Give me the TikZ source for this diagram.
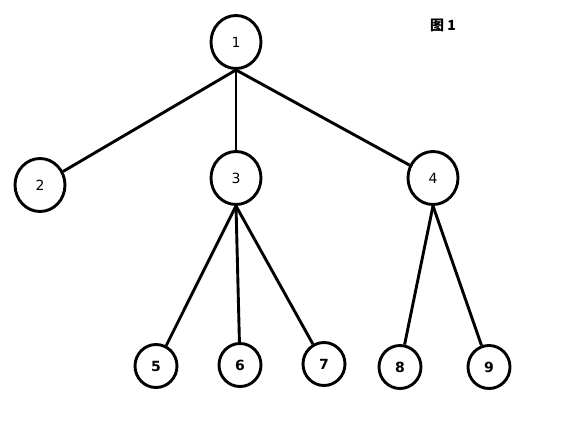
\documentclass[tikz,border=0pt]{standalone}
\usepackage{fontspec}
\setmainfont{DejaVu Sans}
\newfontfamily\cjk{Noto Sans CJK SC}
\usetikzlibrary{shapes.geometric}

\begin{document}
\begin{tikzpicture}[x=1pt, y=-1pt,
    nodo/.style = {draw, ellipse, line width = 2.9pt, inner sep = 0pt,
                   minimum width = 50pt, minimum height = 53pt,
                   font = \fontsize{14}{16}\selectfont},
    foglia/.style = {nodo, minimum width = 42pt, minimum height = 43pt,
                     font = \fontsize{14}{16}\selectfont\bfseries},
    ramo/.style = {line width = 2.9pt}]
    % Bordo
    \useasboundingbox (0,0) rectangle (578,426);
    % Titolo
    \node[font = \cjk\fontsize{14}{16}\selectfont\bfseries] (titolo) at (443,25) {图 1};
    % Radice e primo livello
    \node[nodo] (n1) at (236,42) {1};
    \node[nodo] (n2) at (40,185) {2};
    \node[nodo] (n3) at (236,178) {3};
    \node[nodo] (n4) at (433,178) {4};
    % Foglie
    \node[foglia] (n5) at (156,366) {5};
    \node[foglia] (n6) at (240,365) {6};
    \node[foglia] (n7) at (324,364) {7};
    \node[foglia] (n8) at (400,367) {8};
    \node[foglia] (n9) at (489,367) {9};
    % Rami
    \foreach \figlio in {n2,n3,n4}
        \draw[ramo] (n1.south) -- (\figlio);
    \foreach \figlio in {n5,n6,n7}
        \draw[ramo] (n3.south) -- (\figlio);
    \foreach \figlio in {n8,n9}
        \draw[ramo] (n4.south) -- (\figlio);
\end{tikzpicture}
\end{document}
